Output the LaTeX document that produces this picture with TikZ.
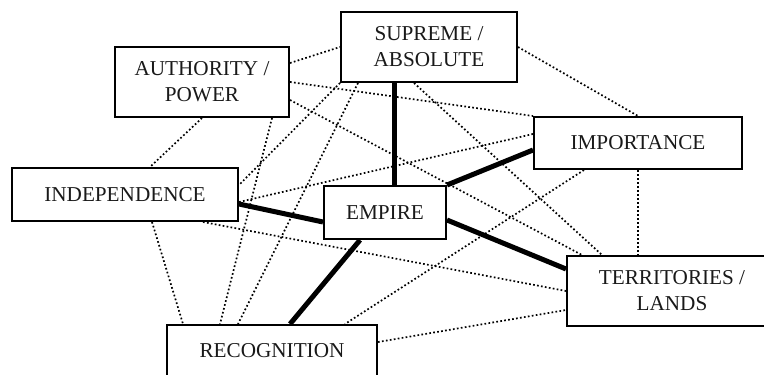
\documentclass[tikz,border=0pt]{standalone}
\usepackage{fontspec}
\setmainfont{Liberation Serif}
\usepackage{tikz}

\begin{document}
\begin{tikzpicture}[x=0.5pt, y=-0.5pt,
		box/.style={draw, line width=1pt, inner sep=0pt, align=center, text=black!90, font=\fontsize{10.6}{13}\selectfont},
		strong/.style={line width=2.5pt},
		weak/.style={line width=0.85pt, dash pattern=on 0.85pt off 1.15pt}]
				\useasboundingbox (0, 0) rectangle (764, 374);
				\node[box, minimum width=87pt, minimum height=35pt] (auth) at (202, 82) {AUTHORITY /\\POWER};
				\node[box, minimum width=88pt, minimum height=35pt] (sup) at (429, 47) {SUPREME /\\ABSOLUTE};
				\node[box, minimum width=104pt, minimum height=26pt] (imp) at (638, 143) {IMPORTANCE};
				\node[box, minimum width=113pt, minimum height=26.5pt] (ind) at (125, 194.5) {INDEPENDENCE};
				\node[box, minimum width=61pt, minimum height=26.5pt] (emp) at (385, 212.5) {EMPIRE};
				\node[box, minimum width=105pt, minimum height=35pt] (ter) at (672, 291) {TERRITORIES /\\LANDS};
				\node[box, minimum width=105pt, minimum height=26pt] (rec) at (272, 351) {RECOGNITION};
				\draw[weak] ([yshift=9.5pt]auth.east) -- (sup.west);
				\draw[weak] (auth.east) -- (imp.north west);
				\draw[weak] ([yshift=-9pt]auth.east) -- ([xshift=-45pt]ter.north);
				\draw[weak] (auth.south) -- ([xshift=12.5pt]ind.north);
				\draw[weak] ([xshift=35pt]auth.south) -- ([xshift=-26pt]rec.north);
				\draw[weak] (sup.south west) -- ([yshift=4.75pt]ind.east);
				\draw[weak] ([xshift=-35.5pt]sup.south) -- ([xshift=-17pt]rec.north);
				\draw[weak] (sup.east) -- (imp.north);
				\draw[weak] ([xshift=-7.5pt]sup.south) -- ([xshift=-35pt]ter.north);
				\draw[weak] ([yshift=4.5pt]imp.west) -- ([yshift=-3.75pt]ind.east);
				\draw[weak] (imp.south) -- ([xshift=-17pt]ter.north);
				\draw[weak] ([xshift=-27pt]imp.south) -- ([xshift=36.5pt]rec.north);
				\draw[weak] ([xshift=13.5pt]ind.south) -- ([xshift=-44.5pt]rec.north);
				\draw[weak] ([xshift=39pt]ind.south) -- (ter.west);
				\draw[weak] ([yshift=4.5pt]rec.east) -- ([yshift=-9.5pt]ter.west);
				\draw[strong] ([xshift=-17.5pt]sup.south) -- ([xshift=4.5pt]emp.north);
				\draw[strong] ([yshift=-3.5pt]imp.west) -- (emp.north east);
				\draw[strong] ([yshift=-4.75pt]ind.east) -- ([yshift=-4.75pt]emp.west);
				\draw[strong] ([xshift=-12.5pt]emp.south) -- ([xshift=9pt]rec.north);
				\draw[strong] ([yshift=-3.75pt]emp.east) -- ([yshift=11pt]ter.west);
			\end{tikzpicture}
\end{document}
